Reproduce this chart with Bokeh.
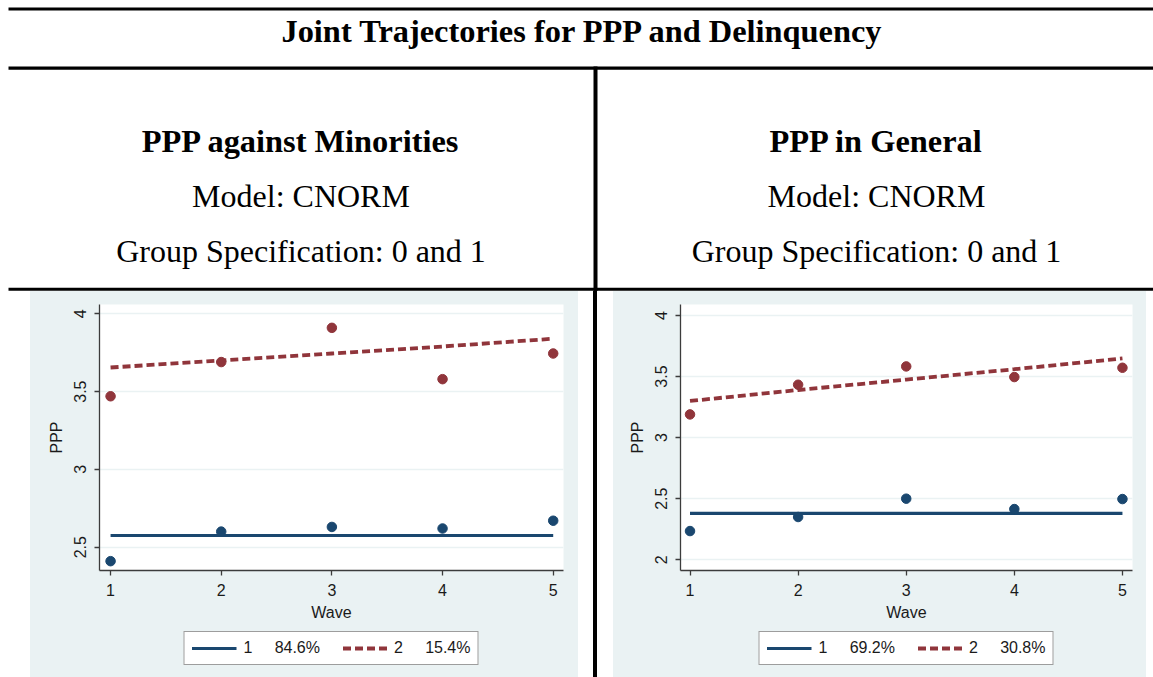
from bokeh.plotting import figure
from bokeh.layouts import column, row
from bokeh.models import Range1d, FixedTicker, Legend, LegendItem, Spacer
from bokeh.core.properties import value
from bokeh.embed import file_html
from bokeh.resources import INLINE

# ---------------- data ----------------
waves = [1, 2, 3, 4, 5]

min_g1_obs = [2.41, 2.60, 2.63, 2.62, 2.67]
min_g1_fit = [2.575, 2.575, 2.575, 2.575, 2.575]
min_g2_obs = [3.47, 3.69, 3.91, 3.58, 3.745]
min_g2_fit = [3.655, 3.70, 3.745, 3.79, 3.84]
min_shares = ["84.6%", "15.4%"]

gen_g1_obs = [2.235, 2.35, 2.50, 2.415, 2.497]
gen_g1_fit = [2.38, 2.38, 2.38, 2.38, 2.38]
gen_g2_obs = [3.19, 3.433, 3.583, 3.496, 3.572]
gen_g2_fit = [3.30, 3.39, 3.475, 3.56, 3.648]
gen_shares = ["69.2%", "30.8%"]

group_names = ["1", "2"]
min_yticks = [2.5, 3, 3.5, 4]
min_ylabels = ["2.5", "3", "3.5", "4"]
gen_yticks = [2, 2.5, 3, 3.5, 4]
gen_ylabels = ["2", "2.5", "3", "3.5", "4"]

title_text = "Joint Trajectories for PPP and Delinquency"
col_titles = ["PPP against Minorities", "PPP in General"]
col_models = ["Model: CNORM", "Model: CNORM"]
col_specs = ["Group Specification: 0 and 1", "Group Specification: 0 and 1"]

NAVY = "#1a476f"
MAROON = "#90353b"
BG = "#eaf2f3"
SERIF = "Liberation Serif"
SANS = "Liberation Sans"

W = 1153
HEAD_H = 291
ROW_H = 386
PLOT_H = 334
LEG_H = ROW_H - PLOT_H

# ---------------- header ----------------
head = figure(width=W, height=HEAD_H, x_range=Range1d(0, W), y_range=Range1d(HEAD_H, 0),
              output_backend="svg", toolbar_location=None, min_border=0,
              x_axis_location=None, y_axis_location=None, outline_line_color=None,
              background_fill_color="white", border_fill_color="white")
head.grid.visible = False
head.quad(left=[8, 8, 8], right=[W, W, W], top=[7, 66, 287.3], bottom=[10, 69.3, 290.3],
          color="black", line_width=0)
head.quad(left=[593], right=[597], top=[66], bottom=[HEAD_H], color="black", line_width=0)
head.text(x=[582.5], y=[30], text=[title_text], text_font=value(SERIF), text_font_size="32.4px",
          text_font_style="bold", text_align="center", text_baseline="alphabetic", text_color="black")
cx = [300.5, 876]
head.text(x=cx, y=[140.5, 140.5], text=col_titles, text_font=value(SERIF), text_font_size="32.4px",
          text_font_style="bold", text_align="center", text_baseline="alphabetic", text_color="black")
head.text(x=cx, y=[195.5, 195.5], text=col_models, text_font=value(SERIF), text_font_size="32px",
          text_align="center", text_baseline="alphabetic", text_color="black")
head.text(x=cx, y=[250, 250], text=col_specs, text_font=value(SERIF), text_font_size="32px",
          text_align="center", text_baseline="alphabetic", text_color="black")


def make_panel(fw, borders, xr, yr, g1_obs, g1_fit, g2_obs, g2_fit, shares, yticks, ylabels):
    left, right, top = borders
    total_w = left + fw + right
    p = figure(width=total_w, height=PLOT_H, x_range=Range1d(*xr), y_range=Range1d(*yr),
               output_backend="svg", toolbar_location=None,
               min_border_left=left, min_border_right=right, min_border_top=top,
               min_border_bottom=PLOT_H - top - 266, background_fill_color="white",
               border_fill_color=BG, outline_line_color=None)
    p.xgrid.visible = False
    p.ygrid.ticker = FixedTicker(ticks=yticks)
    p.ygrid.grid_line_color = BG
    p.ygrid.grid_line_width = 1.3

    p.xaxis.ticker = FixedTicker(ticks=waves)
    p.yaxis.ticker = FixedTicker(ticks=yticks)
    p.yaxis.major_label_overrides = {t: l for t, l in zip(yticks, ylabels)}
    p.yaxis.major_label_orientation = "vertical"
    for ax in (p.xaxis[0], p.yaxis[0]):
        ax.axis_line_color = "#3c3c3c"
        ax.axis_line_width = 1.3
        ax.major_tick_line_color = "#3c3c3c"
        ax.major_tick_line_width = 1.3
        ax.major_tick_out = 5
        ax.major_tick_in = 0
        ax.minor_tick_line_color = None
        ax.major_label_text_font = SANS
        ax.major_label_text_font_size = "16px"
        ax.major_label_text_color = "#1a1a1a"
        ax.axis_label_text_font = SANS
        ax.axis_label_text_font_size = "16px"
        ax.axis_label_text_font_style = "normal"
        ax.axis_label_text_color = "#1a1a1a"
        ax.major_label_standoff = 8
        ax.axis_label_standoff = 5
    p.yaxis.axis_label_standoff = 7
    p.xaxis.axis_label = "Wave"
    p.yaxis.axis_label = "PPP"

    line1 = dict(line_color=NAVY, line_width=3.2)
    line2 = dict(line_color=MAROON, line_width=3.8, line_dash="8 4")
    p.line(waves, g1_fit, **line1)
    p.line(waves, g2_fit, **line2)
    p.scatter(waves, g1_obs, size=9.5, color=NAVY)
    p.scatter(waves, g2_obs, size=9.5, color=MAROON)

    # legend strip below the plot (Stata style legend box)
    lg = figure(width=total_w, height=LEG_H, x_range=Range1d(0, 1), y_range=Range1d(0, 1),
                output_backend="svg", toolbar_location=None,
                min_border_left=left, min_border_right=right, min_border_top=0, min_border_bottom=0,
                x_axis_location=None, y_axis_location=None, outline_line_color=None,
                background_fill_color=BG, border_fill_color=BG)
    lg.grid.visible = False
    k1 = lg.line(waves, g1_fit, visible=False, **line1)
    k2 = lg.line(waves, g2_fit, visible=False, **line2)
    nb = "\u00a0" * 5
    legend = Legend(items=[LegendItem(label=group_names[0] + nb + shares[0], renderers=[k1]),
                           LegendItem(label=group_names[1] + nb + shares[1], renderers=[k2])],
                    orientation="horizontal", location="top_center", margin=6,
                    label_text_font=SANS, label_text_font_size="16px", label_text_color="#1a1a1a",
                    glyph_width=45, glyph_height=18, label_height=18, label_standoff=7, spacing=22,
                    padding=7, border_line_color="#3c3c3c", border_line_width=1.5,
                    background_fill_color="white", background_fill_alpha=1.0,
                    inactive_fill_alpha=0.0)
    lg.add_layout(legend, "center")
    return column(p, lg, spacing=0, styles={"background-color": BG})


c1 = make_panel(464, (69, 15, 13), (0.9, 5.093), (2.350, 4.060),
                min_g1_obs, min_g1_fit, min_g2_obs, min_g2_fit, min_shares,
                min_yticks, min_ylabels)
c2 = make_panel(452, (67, 14, 13), (0.912, 5.093), (1.912, 4.090),
                gen_g1_obs, gen_g1_fit, gen_g2_obs, gen_g2_fit, gen_shares,
                gen_yticks, gen_ylabels)

vline = Spacer(width=4, height=ROW_H, styles={"background-color": "black"})
layout = column(head,
                row(Spacer(width=30, height=ROW_H), c1, Spacer(width=15, height=ROW_H), vline,
                    Spacer(width=16, height=ROW_H), c2),
                spacing=0)

open("out.html", "w").write(file_html(layout, INLINE))
